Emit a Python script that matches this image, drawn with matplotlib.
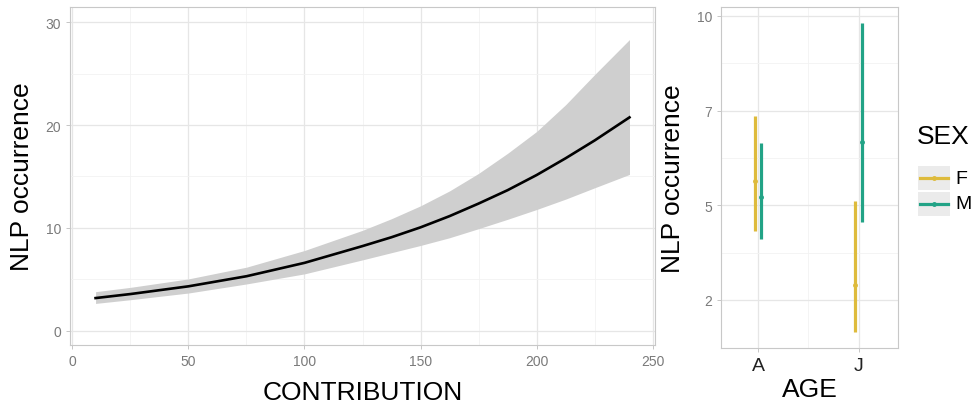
import matplotlib.pyplot as plt
from matplotlib.lines import Line2D
from matplotlib.patches import Rectangle
import numpy as np

plt.rcParams['font.family'] = ['Liberation Sans', 'DejaVu Sans']

# left panel: fitted curve with confidence ribbon
contribution = [10, 25, 50, 75, 100, 125, 137.5, 150, 162.5, 175, 187.5, 200, 212.5, 225, 240]
fit = [3.19, 3.58, 4.33, 5.31, 6.61, 8.24, 9.1, 10.06, 11.15, 12.37, 13.67, 15.14, 16.77, 18.5, 20.74]
upper = [3.81, 4.23, 5.05, 6.19, 7.81, 9.77, 10.9, 12.15, 13.6, 15.3, 17.25, 19.37, 21.97, 24.9, 28.3]
lower = [2.67, 3.03, 3.68, 4.56, 5.54, 6.9, 7.6, 8.30, 9.05, 9.93, 10.84, 11.79, 12.8, 13.9, 15.2]

# right panel: estimates by age and sex
ages = ['A', 'J']
sexes = ['F', 'M']
est = {'F': [5.36, 2.42], 'M': [4.89, 6.46]}
lo = {'F': [3.95, 1.09], 'M': [3.72, 4.19]}
hi = {'F': [7.17, 4.78], 'M': [6.41, 9.80]}
sex_colors = {'F': '#debb3c', 'M': '#22a386'}
right_ticks = [2, 4.667, 7.333, 10]
right_labels = ['2', '5', '7', '10']

grid_major = '#e6e6e6'
grid_minor = '#f2f2f2'
border = '#c8c8c8'
tick_col = '#7a7a7a'

fig = plt.figure(figsize=(9.74, 4.06), dpi=100)


def style(ax):
    for s in ax.spines.values():
        s.set_color(border)
        s.set_linewidth(0.8)
    ax.grid(True, which='major', color=grid_major, linewidth=0.9)
    ax.grid(True, which='minor', color=grid_minor, linewidth=0.6)
    ax.set_axisbelow(True)
    ax.tick_params(which='major', length=3, color='#bdbdbd', width=0.6,
                   labelsize=10, labelcolor=tick_col)
    ax.tick_params(which='minor', length=0)


ax1 = fig.add_axes([0.0719, 0.148, 0.6006, 0.832])
ax1.fill_between(contribution, lower, upper, color='#cfcfcf', linewidth=0)
ax1.plot(contribution, fit, color='black', linewidth=1.9)
ax1.set_xlim(-1, 251)
ax1.set_ylim(-1.36, 31.45)
ax1.set_xticks([0, 50, 100, 150, 200, 250])
ax1.set_xticks([25, 75, 125, 175, 225], minor=True)
ax1.set_yticks([0, 10, 20, 30])
ax1.set_yticks([5, 15, 25], minor=True)
style(ax1)
ax1.set_xlabel('CONTRIBUTION', fontsize=19, labelpad=9)
ax1.set_ylabel('NLP occurrence', fontsize=19, labelpad=8)

ax2 = fig.add_axes([0.7402, 0.140, 0.1817, 0.840])
dodge = {'F': -0.032, 'M': 0.032}
for s in sexes:
    xs = np.arange(1, len(ages) + 1) + dodge[s]
    ax2.vlines(xs, lo[s], hi[s], color=sex_colors[s], linewidth=2.3)
    ax2.plot(xs, est[s], 'o', color=sex_colors[s], markersize=2.5)
ax2.set_xlim(0.63, 2.39)
ax2.set_ylim(0.64, 10.25)
ax2.set_xticks([1, 2])
ax2.set_xticklabels(ages)
ax2.set_xticks([1.5], minor=True)
ax2.set_yticks(right_ticks)
ax2.set_yticklabels(right_labels)
ax2.set_yticks([3.333, 6.0, 8.667], minor=True)
style(ax2)
ax2.tick_params(axis='x', which='major', labelsize=14, labelcolor='#222222')
ax2.set_xlabel('AGE', fontsize=19, labelpad=2)
ax2.set_ylabel('NLP occurrence', fontsize=19, labelpad=8)

# legend drawn by hand, ggplot style keys
W, H = 974, 406
fig.text(917 / W, 1 - 137 / H, 'SEX', fontsize=19, va='center', ha='left')
for i, s in enumerate(sexes):
    y0 = 167 + i * 26
    fig.patches.append(Rectangle((918 / W, 1 - (y0 + 24) / H), 32 / W, 24 / H,
                                 transform=fig.transFigure, facecolor='#ebebeb',
                                 edgecolor='none'))
    yc = 1 - (y0 + 12) / H
    fig.lines.append(Line2D([920 / W, 948 / W], [yc, yc], transform=fig.transFigure,
                            color=sex_colors[s], linewidth=2.3))
    fig.lines.append(Line2D([934 / W], [yc], transform=fig.transFigure, marker='o',
                            markersize=2.5, color=sex_colors[s]))
    fig.text(955 / W, yc, s, fontsize=14, va='center', ha='left')

fig.savefig('out.png', dpi=100)
